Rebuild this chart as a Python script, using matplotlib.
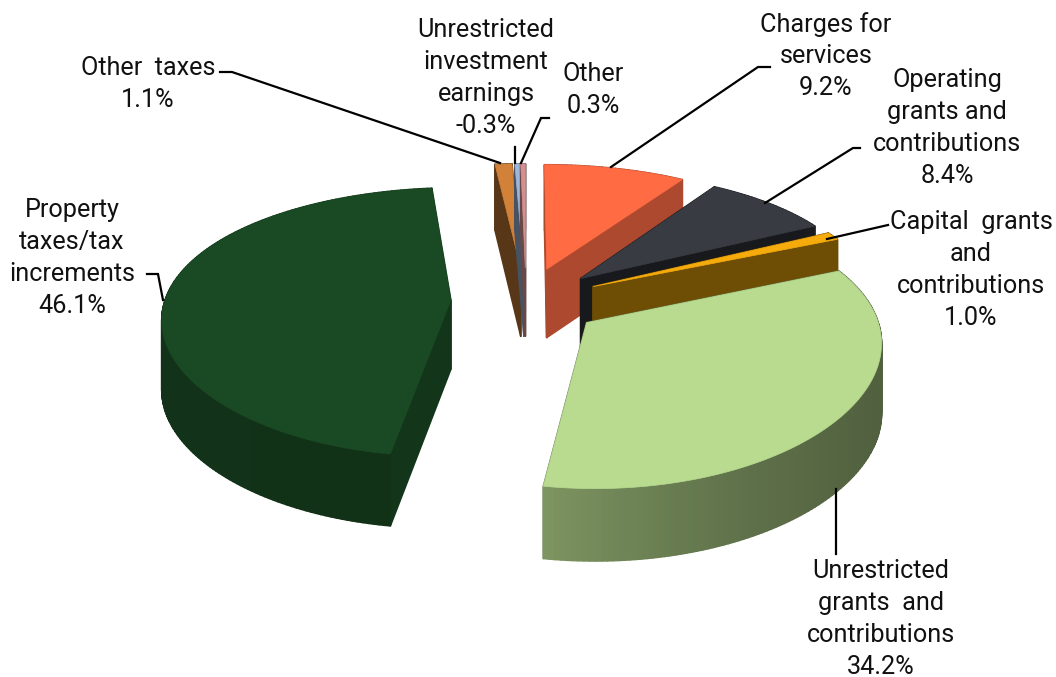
import numpy as np
import matplotlib
matplotlib.use('Agg')
import matplotlib.pyplot as plt
from matplotlib.collections import PolyCollection
from matplotlib.colors import to_rgb

plt.rcParams['font.family'] = ['Roboto', 'DejaVu Sans']

# clockwise from the top of the pie
labels = ['Charges for\nservices', 'Operating\ngrants and\ncontributions',
          'Capital  grants\nand\ncontributions', 'Unrestricted\ngrants  and\ncontributions',
          'Property\ntaxes/tax\nincrements', 'Other  taxes',
          'Unrestricted\ninvestment\nearnings', 'Other']
values = [9.2, 8.4, 1.0, 34.2, 46.1, 1.1, -0.3, 0.3]
colors = ['#FF6B43', '#383B42', '#F5AB0C', '#B8DB8F', '#1A4A24', '#D28238', '#9DB6DA', '#D29090']
arc_shade = [(0.68, 0.68), (0.45, 0.45), (0.45, 0.45), (0.43, 0.68), (0.68, 0.80), (0.45, 0.45), (0.5, 0.5), (0.6, 0.6)]
face_shade = [0.68, 0.42, 0.45, 0.6, 0.72, 0.42, 0.45, 0.5]
draw_order = [5, 6, 7, 0, 1, 2, 3, 4]

label_xy = [(826, 56), (947, 128), (971, 270), (881, 619), (72, 258), (148, 84), (486, 78), (593, 90)]
leaders = [[(770, 67), (758, 67), (611, 167)],
           [(860, 148), (853, 148), (765, 203)],
           [(888, 225), (827, 239)],
           [(836, 489), (836, 554)],
           [(147, 274), (158, 274), (163, 300)],
           [(220, 72), (232, 72), (500, 163)],
           [(515, 147), (515, 163)],
           [(549, 118), (541, 118), (521, 163)]]

# view of the pie
cx, cy, vx = 526, 301, 526
R, Ry, kx, ky, depth, explode = 286, 131, 0.12, 0.163, 69, 0.263


def project(X, Y, Z=0.0):
    px = vx + (cx - vx + R * X) / (1 - kx * Y)
    py = cy + Ry * Y / (1 - ky * Y) + depth * Z / (1 - 0.04 * Y)
    return px, py


def dim(color, f):
    return tuple(c * f for c in to_rgb(color))


fig = plt.figure(figsize=(10.56, 6.77), dpi=100)
ax = fig.add_axes([0, 0, 1, 1])
ax.set_xlim(0, 1056)
ax.set_ylim(677, 0)
ax.axis('off')

sizes = np.abs(values)
edges = np.concatenate([[0], np.cumsum(sizes)]) / sizes.sum() * 2 * np.pi

for i in draw_order:
    a0, a1 = edges[i], edges[i + 1]
    mid = (a0 + a1) / 2
    ox, oy = explode * np.sin(mid), -explode * np.cos(mid)
    ang = np.linspace(a0, a1, max(int(np.degrees(a1 - a0)), 2) + 1)
    X = ox + np.sin(ang)
    Y = oy - np.cos(ang)

    quads, cols, keys = [], [], []
    # radial faces
    for ex, ey in [(X[0], Y[0]), (X[-1], Y[-1])]:
        quads.append([project(ox, oy), project(ex, ey), project(ex, ey, 1), project(ox, oy, 1)])
        cols.append(dim(colors[i], face_shade[i]))
        keys.append((oy + ey) / 2)
    # outer wall, shaded along the arc
    t = np.linspace(0, 1, len(ang) - 1) ** 3
    s0, s1 = arc_shade[i]
    for j in range(len(ang) - 1):
        quads.append([project(X[j], Y[j]), project(X[j + 1], Y[j + 1]),
                      project(X[j + 1], Y[j + 1], 1), project(X[j], Y[j], 1)])
        cols.append(dim(colors[i], s0 + (s1 - s0) * t[j]))
        keys.append((Y[j] + Y[j + 1]) / 2 + 0.3)
    order = np.argsort(keys)
    ax.add_collection(PolyCollection([quads[k] for k in order], facecolors=[cols[k] for k in order],
                                     edgecolors=[cols[k] for k in order], linewidths=1.2))
    top = [project(ox, oy)] + [project(x, y) for x, y in zip(X, Y)]
    ax.fill(*zip(*top), color=colors[i], lw=0.5)

for i in range(len(values)):
    ax.plot(*zip(*leaders[i]), color='black', lw=1.6, solid_joinstyle='miter')
    text = labels[i] + '\n' + f'{values[i]:.1f}%'
    ax.text(label_xy[i][0], label_xy[i][1], text, ha='center', va='center',
            fontsize=18.2, color='#111111', linespacing=1.41)

fig.savefig('out.png', dpi=100)
